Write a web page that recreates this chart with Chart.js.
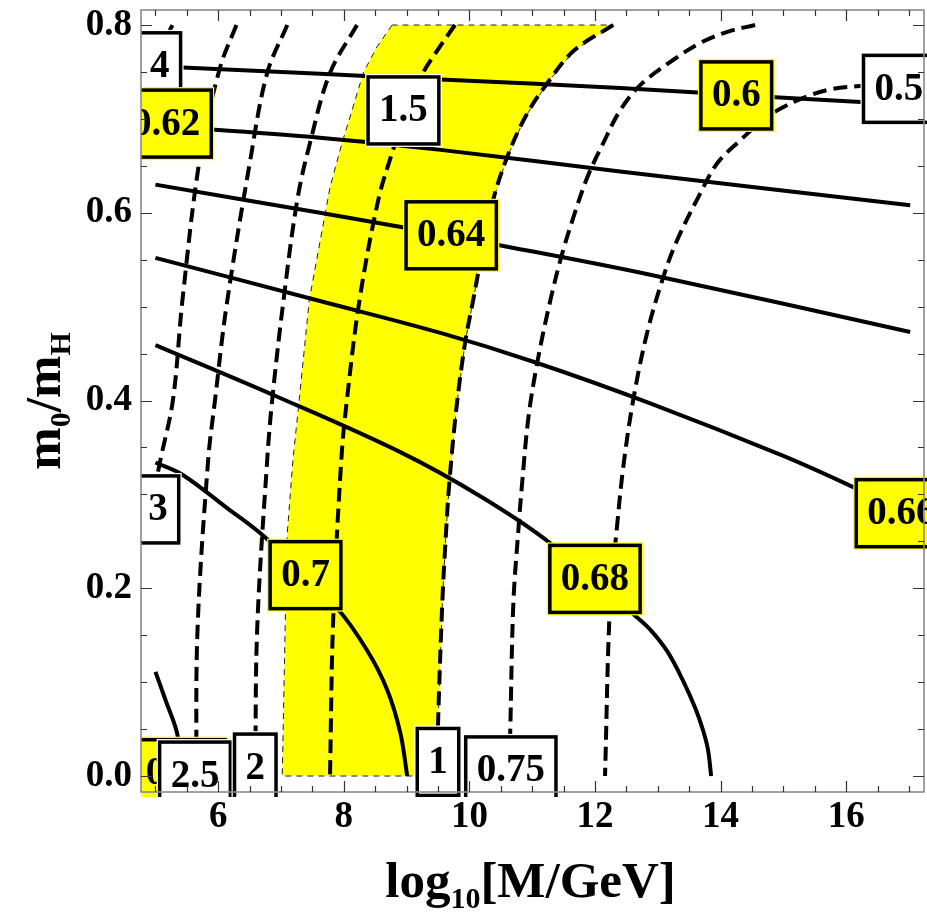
<!DOCTYPE html>
<html>
<head>
<meta charset="utf-8">
<script src="https://cdn.jsdelivr.net/npm/chart.js@4.4.1/dist/chart.umd.min.js"></script>
<style>
  html, body { margin: 0; padding: 0; background: #fff; }
  #wrap { width: 927px; height: 913px; position: relative; }
</style>
</head>
<body>
<div id="wrap"><canvas id="chart"></canvas></div>
<script>
// dashed contours (white labels)
const lvl4X = [5.27, 5.12, 5.0];
const lvl4Y = [0.8, 0.779, 0.756];
const lvl3X = [6.29, 6.03, 5.71, 5.43, 5.28, 5.08, 5.0];
const lvl3Y = [0.8, 0.755, 0.659, 0.507, 0.401, 0.337, 0.31];
const lvl25X = [7.10, 6.78, 6.51, 6.13, 5.95, 5.84, 5.67, 5.65];
const lvl25Y = [0.8, 0.749, 0.656, 0.5, 0.401, 0.337, 0.156, 0.0];
const lvl2X = [8.21, 7.78, 7.46, 7.26, 7.04, 6.86, 6.78, 6.62, 6.59];
const lvl2Y = [0.8, 0.749, 0.674, 0.614, 0.507, 0.401, 0.337, 0.156, 0.0];
const lvl15X = [9.77, 9.49, 9.23, 8.95, 8.77, 8.55, 8.25, 8.05, 7.96, 7.83, 7.78];
const lvl15Y = [0.8, 0.773, 0.745, 0.699, 0.664, 0.614, 0.507, 0.401, 0.337, 0.166, 0.0];
const lvl1X = [12.29, 11.67, 11.24, 10.89, 10.60, 10.38, 10.20, 10.06, 9.93, 9.79, 9.68, 9.63, 9.57, 9.50, 9.49];
const lvl1Y = [0.8, 0.773, 0.738, 0.702, 0.659, 0.614, 0.557, 0.507, 0.461, 0.390, 0.312, 0.262, 0.187, 0.054, 0.0];
const lvl075X = [14.55, 14.12, 13.68, 13.25, 12.72, 12.40, 12.13, 11.88, 11.67, 11.48, 11.29, 11.08, 10.94, 10.84, 10.78, 10.70, 10.65, 10.63];
const lvl075Y = [0.8, 0.793, 0.781, 0.763, 0.736, 0.709, 0.674, 0.638, 0.598, 0.557, 0.507, 0.440, 0.382, 0.312, 0.262, 0.184, 0.046, 0.0];
const lvl05X = [17.02, 16.22, 15.79, 15.38, 14.90, 14.63, 14.31, 13.95, 13.68, 13.31, 13.09, 12.83, 12.61, 12.45, 12.35, 12.24, 12.16];
const lvl05Y = [0.738, 0.735, 0.732, 0.724, 0.709, 0.696, 0.677, 0.653, 0.621, 0.571, 0.532, 0.472, 0.401, 0.329, 0.265, 0.184, 0.0];

// solid contours (yellow labels)
const lvl060X = [5.0, 7.62, 9.54, 12.40, 14.87, 17.02];
const lvl060Y = [0.756, 0.748, 0.742, 0.733, 0.723, 0.715];
const lvl062X = [5.0, 7.62, 9.54, 12.40, 17.02];
const lvl062Y = [0.693, 0.680, 0.667, 0.644, 0.608];
const lvl064X = [5.0, 7.62, 8.98, 10.44, 12.88, 17.02];
const lvl064Y = [0.630, 0.600, 0.584, 0.566, 0.534, 0.473];
const lvl066X = [5.0, 7.62, 9.54, 11.08, 12.88, 15.00, 16.14, 17.02];
const lvl066Y = [0.552, 0.506, 0.472, 0.440, 0.397, 0.341, 0.307, 0.279];
const lvl068X = [5.0, 6.94, 8.90, 10.20, 11.29, 12.67, 12.88, 13.15, 13.40, 13.60, 13.72, 13.80, 13.85];
const lvl068Y = [0.459, 0.404, 0.345, 0.297, 0.248, 0.169, 0.156, 0.133, 0.102, 0.072, 0.049, 0.028, 0.0];
const lvl070X = [5.0, 5.43, 6.11, 6.75, 7.89, 8.37, 8.69, 8.90, 9.01];
const lvl070Y = [0.334, 0.321, 0.287, 0.254, 0.179, 0.134, 0.092, 0.046, 0.0];
const lvl072X = [5.0, 5.16, 5.35, 5.39];
const lvl072Y = [0.111, 0.081, 0.044, 0.0];

// left (thin dashed) edge of the yellow band, top to bottom
const bandLeftX = [8.77, 8.53, 8.31, 8.13, 7.97, 7.78, 7.45, 7.29, 7.19, 7.10, 7.07, 7.02];
const bandLeftY = [0.8, 0.777, 0.749, 0.709, 0.674, 0.627, 0.507, 0.401, 0.337, 0.259, 0.174, 0.0];

// contour labels, drawn in this order
const labelText = ["0.72", "2.5", "2", "1", "0.75", "4", "0.62", "1.5", "0.6", "0.5", "0.64", "0.66", "3", "0.7", "0.68"];
const labelX = [5.39, 5.63, 6.59, 9.50, 10.66, 5.07, 5.17, 8.95, 14.25, 16.84, 9.71, 16.88, 5.04, 7.39, 12.00];
const labelY = [0.003, 0.0005, 0.009, 0.015, 0.006, 0.756, 0.695, 0.709, 0.725, 0.732, 0.576, 0.280, 0.284, 0.214, 0.210];
const labelSolid = [true, false, false, false, false, false, true, false, true, false, true, true, false, true, true];

const xTicks = [6, 8, 10, 12, 14, 16];
const yTicks = [0, 0.2, 0.4, 0.6, 0.8];

const serif = '"Liberation Serif", "Times New Roman", serif';
const yellow = "#ffff00";

function pts(xs, ys) {
  return xs.map((v, i) => ({ x: v, y: ys[i] }));
}

function contour(xs, ys, dashed) {
  return {
    data: pts(xs, ys),
    showLine: true,
    pointRadius: 0,
    borderColor: "#000",
    borderWidth: 4,
    borderDash: dashed ? [14, 7] : [],
    borderCapStyle: "butt",
    tension: 0.35,
    fill: false,
    order: 0,
  };
}

const bandX = bandLeftX.concat(lvl1X.slice().reverse(), [bandLeftX[0]]);
const bandY = bandLeftY.concat(lvl1Y.slice().reverse(), [bandLeftY[0]]);

const datasets = [
  contour(lvl060X, lvl060Y, false),
  contour(lvl062X, lvl062Y, false),
  contour(lvl064X, lvl064Y, false),
  contour(lvl066X, lvl066Y, false),
  contour(lvl068X, lvl068Y, false),
  contour(lvl070X, lvl070Y, false),
  contour(lvl072X, lvl072Y, false),
  contour(lvl4X, lvl4Y, true),
  contour(lvl3X, lvl3Y, true),
  contour(lvl25X, lvl25Y, true),
  contour(lvl2X, lvl2Y, true),
  contour(lvl15X, lvl15Y, true),
  contour(lvl1X, lvl1Y, true),
  contour(lvl075X, lvl075Y, true),
  contour(lvl05X, lvl05Y, true),
  {
    data: pts(bandX, bandY),
    showLine: true,
    pointRadius: 0,
    borderColor: "#222",
    borderWidth: 1,
    borderDash: [6, 5],
    backgroundColor: yellow,
    tension: 0,
    fill: "shape",
    order: 5,
  },
];

const contourLabels = {
  id: "contourLabels",
  afterDatasetsDraw(chart) {
    const { ctx, chartArea: a, scales: { x, y } } = chart;
    ctx.save();
    ctx.beginPath();
    ctx.rect(a.left, 0, chart.width - a.left, a.bottom + 5);
    ctx.clip();
    ctx.font = "bold 39px " + serif;
    ctx.textAlign = "center";
    ctx.textBaseline = "alphabetic";
    labelText.forEach((t, i) => {
      const cx = x.getPixelForValue(labelX[i]);
      const cy = y.getPixelForValue(labelY[i]);
      const w = ctx.measureText(t).width + 22;
      const h = 67;
      ctx.fillStyle = labelSolid[i] ? yellow : "#fff";
      ctx.fillRect(cx - w / 2 - 3, cy - h / 2 - 3, w + 6, h + 6);
      ctx.lineWidth = 3.5;
      ctx.strokeStyle = "#000";
      ctx.strokeRect(cx - w / 2, cy - h / 2, w, h);
      ctx.fillStyle = "#000";
      ctx.fillText(t, cx, cy + 11);
    });
    ctx.restore();
  },
};

const frameTicks = {
  id: "frameTicks",
  afterDatasetsDraw(chart) {
    const { ctx, chartArea: a, scales: { x, y } } = chart;
    ctx.save();
    ctx.strokeStyle = "#8a8a8a";
    ctx.lineWidth = 1.6;
    ctx.strokeRect(a.left, a.top, a.right - a.left, a.bottom - a.top);
    ctx.strokeStyle = "#333";
    ctx.lineWidth = 1.2;
    ctx.beginPath();
    for (let i = 10; i <= 34; i++) {
      const px = Math.round(x.getPixelForValue(i / 2)) + 0.5;
      const len = i % 4 === 0 ? 11 : 6;
      ctx.moveTo(px, a.bottom);
      ctx.lineTo(px, a.bottom - len);
      ctx.moveTo(px, a.top);
      ctx.lineTo(px, a.top + len);
    }
    for (let i = 0; i <= 16; i++) {
      const py = Math.round(y.getPixelForValue(i / 20)) + 0.5;
      const len = i % 4 === 0 ? 11 : 6;
      ctx.moveTo(a.left, py);
      ctx.lineTo(a.left + len, py);
      ctx.moveTo(a.right, py);
      ctx.lineTo(a.right - len, py);
    }
    ctx.stroke();
    ctx.restore();
  },
};

const axisTitles = {
  id: "axisTitles",
  afterDraw(chart) {
    const { ctx, chartArea: a } = chart;
    const big = "bold 51px " + serif;
    const small = "bold 30px " + serif;
    ctx.save();
    ctx.fillStyle = "#000";
    ctx.textBaseline = "alphabetic";
    ctx.textAlign = "left";

    // x title: log10[M/GeV]
    const xParts = [["log", big, 0], ["10", small, 11], ["[M/GeV]", big, 0]];
    let total = 0;
    xParts.forEach(([t, f]) => { ctx.font = f; total += ctx.measureText(t).width; });
    let cx = (a.left + a.right) / 2 - total / 2 - 2;
    xParts.forEach(([t, f, dy]) => {
      ctx.font = f;
      ctx.fillText(t, cx, 897 + dy);
      cx += ctx.measureText(t).width;
    });

    // y title: m0/mH, rotated
    const yParts = [["m", big, 0], ["0", small, 10], ["/m", big, 0], ["H", small, 10]];
    total = 0;
    yParts.forEach(([t, f]) => { ctx.font = f; total += ctx.measureText(t).width; });
    ctx.translate(60, (a.top + a.bottom) / 2);
    ctx.rotate(-Math.PI / 2);
    let cy = -total / 2;
    yParts.forEach(([t, f, dy]) => {
      ctx.font = f;
      ctx.fillText(t, cy, dy);
      cy += ctx.measureText(t).width;
    });
    ctx.restore();
  },
};

function noPad(s) {
  s.paddingTop = 0;
  s.paddingBottom = 0;
  s.paddingLeft = 0;
  s.paddingRight = 0;
}

new Chart(document.getElementById("chart"), {
  type: "scatter",
  data: { datasets },
  options: {
    responsive: true,
    maintainAspectRatio: false,
    animation: false,
    devicePixelRatio: 1,
    layout: { padding: { left: 0, right: 3, top: 10, bottom: 0 } },
    plugins: {
      legend: { display: false },
      tooltip: { enabled: false },
    },
    scales: {
      x: {
        type: "linear",
        min: 4.77,
        max: 17.24,
        afterFit(s) { s.height = 121; noPad(s); },
        afterBuildTicks(s) { s.ticks = xTicks.map((v) => ({ value: v })); },
        grid: { display: false, drawTicks: false },
        border: { display: false },
        ticks: {
          color: "#000",
          padding: 3,
          maxRotation: 0,
          font: { family: serif, size: 37, weight: "bold" },
          callback: (v) => String(v),
        },
      },
      y: {
        type: "linear",
        min: -0.017,
        max: 0.816,
        afterFit(s) { s.width = 141; noPad(s); },
        afterBuildTicks(s) { s.ticks = yTicks.map((v) => ({ value: v })); },
        grid: { display: false, drawTicks: false },
        border: { display: false },
        ticks: {
          color: "#000",
          padding: 9,
          font: { family: serif, size: 37, weight: "bold" },
          callback: (v) => Number(v).toFixed(1),
        },
      },
    },
  },
  plugins: [contourLabels, frameTicks, axisTitles],
});
</script>
</body>
</html>
